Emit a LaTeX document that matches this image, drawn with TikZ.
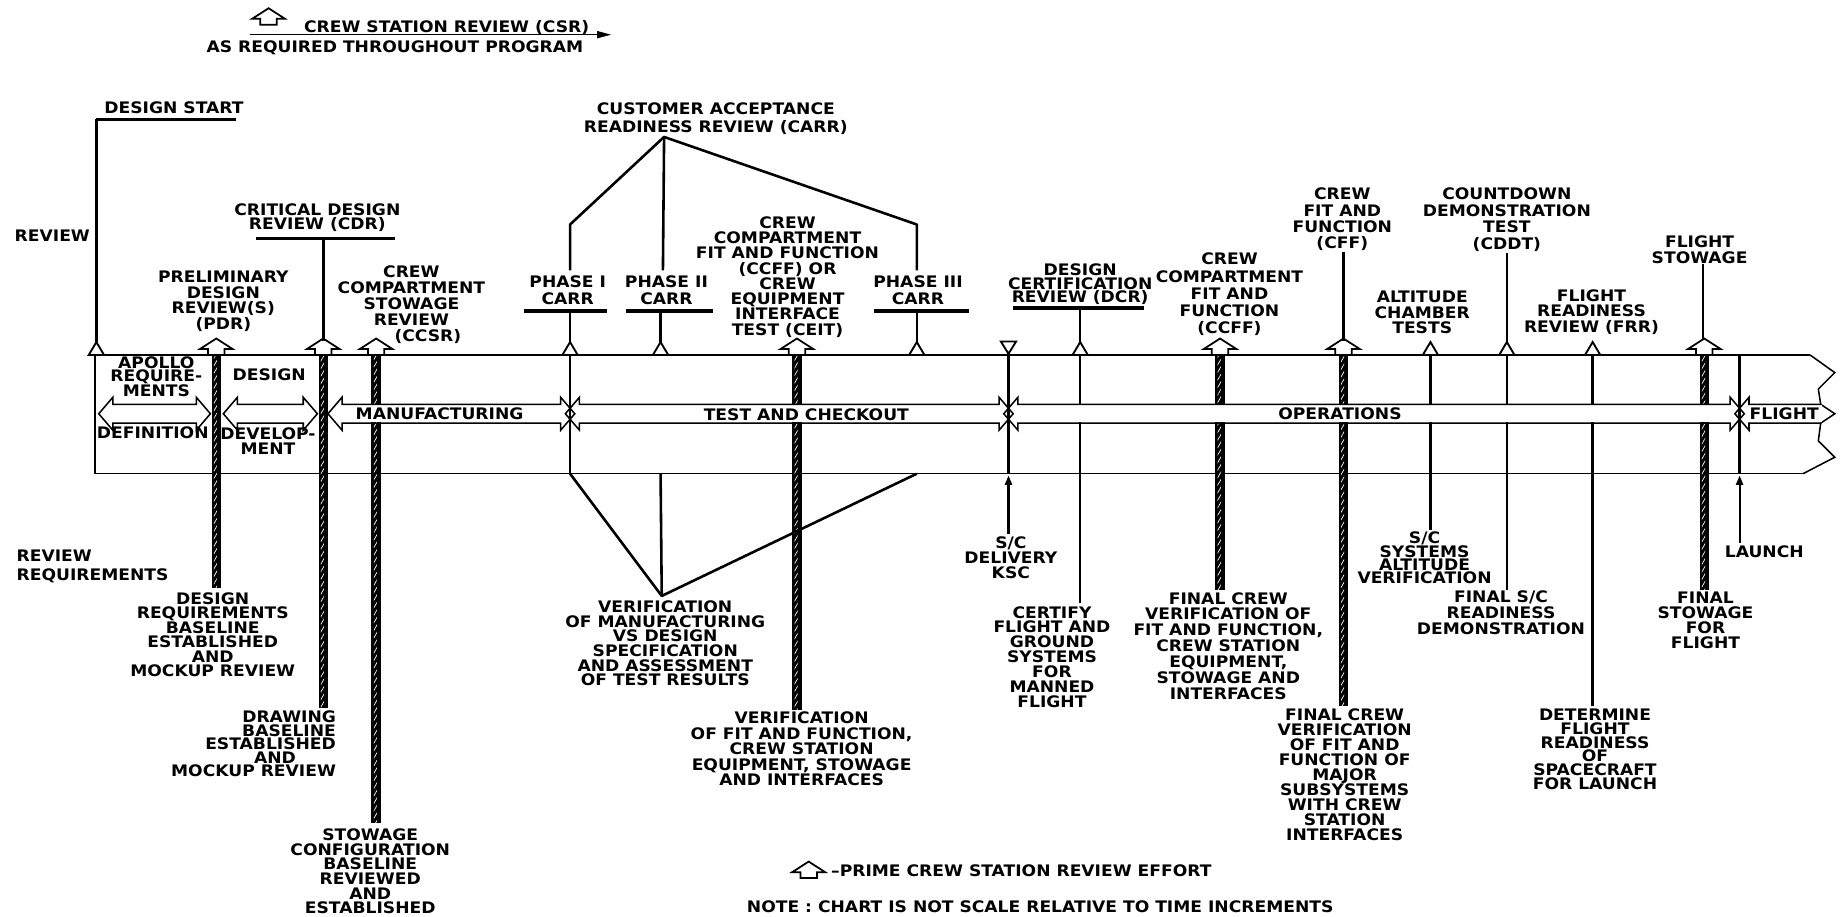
\documentclass[tikz,border=0pt]{standalone}
\usepackage{fontspec}
\newfontfamily\labfont{DejaVu Sans}[FakeStretch=1.08]
\usetikzlibrary{arrows.meta,patterns.meta}
\newcommand{\bandarrow}[2]{%
  \draw[rail] (#1,352) -- ({#1+12},338) -- ({#1+12},344) -- ({#2-12},344) -- ({#2-12},338) -- (#2,352) -- ({#2-12},366) -- ({#2-12},360) -- ({#1+12},360) -- ({#1+12},366) -- cycle;}
\newcommand{\ropebar}[3]{%
  \fill[black] ({#1-4},#2) rectangle ({#1+4},#3);
  \fill[pattern={Lines[angle=60,distance=3.2pt,line width=0.6pt]}, pattern color=white] ({#1-2},#2) rectangle ({#1+0.6},#3);}
\tikzset{
  lab/.style={font=\labfont\bfseries\fontsize{13.5}{#1}\selectfont, inner sep=0pt, align=center},
  lab/.default=13.2,
  rail/.style={line width=1.3pt},
  stem/.style={line width=2.2pt},
  uline/.style={line width=2.8pt},
  house/.pic={\draw[line width=1.5pt, fill=white] (-7,0) -- (-7,-5) -- (-14,-5) -- (0,-14) -- (14,-5) -- (7,-5) -- (7,0) -- cycle;},
  tri/.pic={\draw[line width=1.6pt, fill=white] (-6.5,0) -- (0,-11) -- (6.5,0) -- cycle;},
  itri/.pic={\draw[line width=1.6pt, fill=white] (-6.5,-11.5) -- (0,-1) -- (6.5,-11.5) -- cycle;},
}
\begin{document}
\begin{tikzpicture}[x=1pt,y=-1pt]
\useasboundingbox (0,0) rectangle (1568,780);
\fill[white] (0,0) rectangle (1568,780);

% ---- top legend
\pic at (228.5,21) {house};
\node[lab] (csr) at (380,23) {CREW STATION REVIEW (CSR)};
\coordinate (csrA) at (213,29.5);
\coordinate (csrB) at (520,29.5);
\draw[rail, -{Triangle[length=12pt,width=6pt]}] (csrA) -- (csrB);
\node[lab] (asreq) at (336,40.5) {AS REQUIRED THROUGHOUT PROGRAM};

% ---- band outline and break
\draw[rail] (1540,302) -- (81,302) -- (81,403) -- (1534,403);
\draw[rail] (1540,302) -- (1561,317) -- (1547,331) -- (1549,344) -- (1561,352) -- (1549,360) -- (1547,375) -- (1561,389) -- (1534,403);

% ---- bars and stems crossing the band (hidden inside the arrows)
\ropebar{320}{302}{700}
\ropebar{678}{303}{604}
\ropebar{1038}{302}{502}
\ropebar{1143}{302}{601}
\ropebar{1450}{302}{502}
\draw[stem] (919,302) -- (919,513);
\draw[stem] (1217,302) -- (1217,451);
\draw[stem] (1282,302) -- (1282,502);
\draw[stem] (1355,302) -- (1355,601);

\fill[white] (83,344.6) rectangle (1550,359.4);

% ---- phase arrows
\bandarrow{84}{179}
\bandarrow{190}{270}
\bandarrow{279}{489}
\bandarrow{481}{862}
\bandarrow{854}{1484}
\draw[rail] (1549,344) -- (1488,344) -- (1488,338) -- (1476,352) -- (1488,366) -- (1488,360) -- (1549,360);

% ---- junction lines
\draw[stem] (485,302) -- (485,403);
\draw[stem] (858,300) -- (858,403);
\draw[stem] (1480,302) -- (1480,403);
\ropebar{184}{302}{500}
\ropebar{275}{302}{602}

% ---- markers on the band
\pic at (82,302) {tri};
\pic at (184,302) {house};
\pic at (275,302) {house};
\pic at (320,302) {house};
\pic at (485,302) {tri};
\pic at (562,302) {tri};
\pic at (678,302) {house};
\pic at (780,302) {tri};
\pic at (858,302) {itri};
\pic at (919,302) {tri};
\pic at (1038,302) {house};
\pic at (1143,302) {house};
\pic at (1217,302) {tri};
\pic at (1282,302) {tri};
\pic at (1355,302) {tri};
\pic at (1450,302) {house};

% ---- design start / review
\node[lab] (ds) at (148,92) {DESIGN START};
\coordinate (dsL) at (82,101.6);
\coordinate (dsR) at (201,101.6);
\coordinate (dsT) at (82,291);
\draw[uline] (dsR) -- (dsL);
\draw[stem] (dsL) -- (dsT);
\node[lab] (rev) at (44.5,200.5) {REVIEW};
\node[lab=16, anchor=west, align=left] (revreq) at (14,482) {REVIEW\\REQUIREMENTS};

% ---- PDR
\node[lab=13.5] (pdr) at (190,256.3) {PRELIMINARY\\DESIGN\\REVIEW(S)\\(PDR)};
\node[lab=12.4] (pdrB) at (181,540) {DESIGN\\REQUIREMENTS\\BASELINE\\ESTABLISHED\\AND\\MOCKUP REVIEW};

% ---- CDR
\node[lab=12.5] (cdr) at (270,185.3) {CRITICAL DESIGN\\REVIEW (CDR)};
\draw[uline] (218,203) -- (336,203);
\draw[stem] (275,203) -- (275,290);
\node[lab=11.5, anchor=east, align=right] (cdrB) at (286,633) {DRAWING\\BASELINE\\ESTABLISHED\\AND\rule{34pt}{0pt}\\MOCKUP REVIEW};

% ---- CCSR
\node[lab=13.6] (ccsr) at (350,259.3) {CREW\\COMPARTMENT\\STOWAGE\\REVIEW\\\hspace*{28pt}(CCSR)};
\node[lab=12.5] (ccsrB) at (315,741.3) {STOWAGE\\CONFIGURATION\\BASELINE\\REVIEWED\\AND\\ESTABLISHED};

% ---- CARR
\node[lab=16] (carr) at (609,101) {CUSTOMER ACCEPTANCE\\READINESS REVIEW (CARR)};
\coordinate (apex) at (565,116.5);
\coordinate (b1) at (485,191);
\coordinate (b1e) at (485,230);
\coordinate (b2e) at (564,230);
\coordinate (b3) at (780,191);
\coordinate (b3e) at (780,230);
\draw[stem, line join=round] (b1e) -- (b1) -- (apex) -- (b3) -- (b3e);
\draw[stem] (apex) -- (b2e);
\node[lab=14] (p1) at (483,247) {PHASE I\\CARR};
\node[lab=14] (p2) at (567,247) {PHASE II\\CARR};
\node[lab=14] (p3) at (781,247) {PHASE III\\CARR};
\draw[uline] (446,264.5) -- (516,264.5);
\draw[uline] (533,264.5) -- (607,264.5);
\draw[uline] (744,264.5) -- (824,264.5);
\draw[stem] (485,264.5) -- (485,291);
\draw[stem] (562,264.5) -- (562,291);
\draw[stem] (780,264.5) -- (780,291);
\coordinate (vapex) at (563,507);
\draw[stem, line join=round] (485,403) -- (vapex) -- (780,403);
\draw[stem] (562,403) -- (vapex);
\node[lab=12.5] (verif) at (566,547.3) {VERIFICATION\\OF MANUFACTURING\\VS DESIGN\\SPECIFICATION\\AND ASSESSMENT\\OF TEST RESULTS};

% ---- CEIT
\node[lab=13] (ceit) at (670,235.5) {CREW\\COMPARTMENT\\FIT AND FUNCTION\\(CCFF) OR\\CREW\\EQUIPMENT\\INTERFACE\\TEST (CEIT)};
\node[lab=13.15] (ceitB) at (682,637.3) {VERIFICATION\\OF FIT AND FUNCTION,\\CREW STATION\\EQUIPMENT, STOWAGE\\AND INTERFACES};

% ---- S/C delivery
\coordinate (scdA) at (858,454);
\coordinate (scdB) at (858,404.5);
\draw[line width=1.8pt, -{Triangle[length=8pt,width=6pt]}] (scdA) -- (scdB);
\node[lab=12.5] (scd) at (860,474.5) {S/C\\DELIVERY\\KSC};

% ---- DCR
\node[lab=11.8] (dcr) at (919,241.8) {DESIGN\\CERTIFICATION\\REVIEW (DCR)};
\draw[uline] (862,262) -- (973,262);
\draw[stem] (919,262) -- (919,291);
\node[lab=12.7] (dcrB) at (895,559) {CERTIFY\\FLIGHT AND\\GROUND\\SYSTEMS\\FOR\\MANNED\\FLIGHT};

% ---- CCFF
\node[lab=14.7] (ccff) at (1046,250.5) {CREW\\COMPARTMENT\\FIT AND\\FUNCTION\\(CCFF)};
\node[lab=13.5] (ccffB) at (1045,549.5) {FINAL CREW\\VERIFICATION OF\\FIT AND FUNCTION,\\CREW STATION\\EQUIPMENT,\\STOWAGE AND\\INTERFACES};

% ---- CFF
\node[lab=13.7] (cff) at (1142,186.5) {CREW\\FIT AND\\FUNCTION\\(CFF)};
\draw[stem] (1143,214) -- (1143,290);
\node[lab=12.75] (cffB) at (1144,659) {FINAL CREW\\VERIFICATION\\OF FIT AND\\FUNCTION OF\\MAJOR\\SUBSYSTEMS\\WITH CREW\\STATION\\INTERFACES};

% ---- altitude chamber
\node[lab=13.3] (alt) at (1210,266) {ALTITUDE\\CHAMBER\\TESTS};
\node[lab=11] (altB) at (1212,474.5) {S/C\\SYSTEMS\\ALTITUDE\\VERIFICATION};

% ---- CDDT
\node[lab=14] (cddt) at (1282,187) {COUNTDOWN\\DEMONSTRATION\\TEST\\(CDDT)};
\draw[stem] (1282,215) -- (1282,291);
\node[lab=13.5] (cddtB) at (1277,521.5) {FINAL S/C\\READINESS\\DEMONSTRATION};

% ---- FRR
\node[lab=13.5] (frr) at (1354,265.5) {FLIGHT\\READINESS\\REVIEW (FRR)};
\node[lab=11.8] (frrB) at (1357,637.5) {DETERMINE\\FLIGHT\\READINESS\\OF\\SPACECRAFT\\FOR LAUNCH};

% ---- flight stowage
\node[lab=13] (fs) at (1446,212.5) {FLIGHT\\STOWAGE};
\draw[stem] (1449,225) -- (1449,288);
\node[lab=12.7] (fsB) at (1451,528) {FINAL\\STOWAGE\\FOR\\FLIGHT};

% ---- launch
\coordinate (lnA) at (1480,462);
\coordinate (lnB) at (1480,404.5);
\draw[line width=1.8pt, -{Triangle[length=8pt,width=6pt]}] (lnA) -- (lnB);
\node[lab] (launch) at (1501,469) {LAUNCH};

% ---- texts inside the band
\node[lab=11.6] (apollo) at (133,320.5) {APOLLO\\REQUIRE-\\MENTS};
\node[lab] (defn) at (130,368.5) {DEFINITION};
\node[lab] (dsgn) at (229,319) {DESIGN};
\node[lab=12.9] (devel) at (228,375) {DEVELOP-\\MENT};
\node[lab] (manu) at (374,352) {MANUFACTURING};
\node[lab] (tco) at (686,353) {TEST AND CHECKOUT};
\node[lab] (ops) at (1140,352) {OPERATIONS};
\node[lab] (flt) at (1518,352) {FLIGHT};

% ---- bottom legend
\pic at (688,747) {house};
\node[lab, anchor=west] (prime) at (707,740.5) {–PRIME CREW STATION REVIEW EFFORT};
\node[lab] (note) at (885,771) {NOTE : CHART IS NOT SCALE RELATIVE TO TIME INCREMENTS};
\end{tikzpicture}
\end{document}
